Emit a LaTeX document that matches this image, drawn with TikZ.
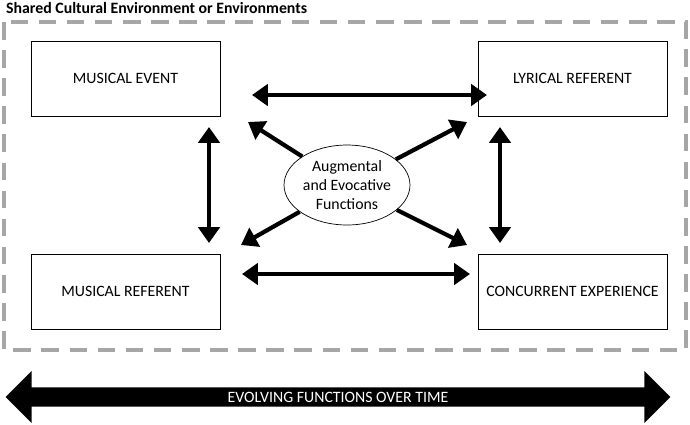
\documentclass[tikz,border=0pt]{standalone}
\usepackage{fontspec}
\setmainfont{Carlito}
\usetikzlibrary{arrows.meta,shapes,positioning,shadows}

\begin{document}
\begin{tikzpicture}[x=0.02cm, y=-0.02cm,
    box/.style={rectangle, draw, fill=white, minimum width=3.78cm, minimum height=1.5cm, font=\small, drop shadow={shadow xshift=0.5pt, shadow yshift=-0.5pt, opacity=0.3}},
    arrow/.style={{Triangle[length=9pt,width=12pt]}-{Triangle[length=9pt,width=12pt]}, line width=2.4pt},
    onearrow/.style={-{Triangle[length=9pt,width=12pt]}, line width=2.4pt}
]
    \useasboundingbox (0,0) rectangle (690,424);
    \node[font=\small\bfseries, anchor=west] (title) at (0,8) {Shared Cultural Environment or Environments};
    \draw[gray!70, dashed, line width=2pt, dash pattern=on 10pt off 6pt] (4,22) rectangle (686,350);

    \node[box] (event) at (125.5,78.5) {MUSICAL EVENT};
    \node[box] (lyrical) at (572.5,78.5) {LYRICAL REFERENT};
    \node[box] (referent) at (125.5,291.5) {MUSICAL REFERENT};
    \node[box] (concurrent) at (572.5,291.5) {CONCURRENT EXPERIENCE};
    \node[ellipse, draw, minimum width=2.52cm, minimum height=1.6cm, align=center, font=\small, inner sep=0pt] (functions) at (347,185) {Augmental\\and Evocative\\Functions};

    % gaps between boxes
    \coordinate (tl) at (252,95);
    \coordinate (tr) at (487,95);
    \coordinate (bl) at (242,274);
    \coordinate (br) at (470,274);
    \coordinate (lt) at (209,127);
    \coordinate (lb) at (209,243);
    \coordinate (rt) at (500,127);
    \coordinate (rb) at (500,243);
    \coordinate (dtl) at (248,122);
    \coordinate (dtr) at (467,122);
    \coordinate (dbl) at (241,245);
    \coordinate (dbr) at (467,245);

    \draw[arrow] (tl) -- (tr);
    \draw[arrow] (bl) -- (br);
    \draw[arrow] (lt) -- (lb);
    \draw[arrow] (rt) -- (rb);
    \draw[onearrow] (functions) -- (dtl);
    \draw[onearrow] (functions) -- (dtr);
    \draw[onearrow] (functions) -- (dbl);
    \draw[onearrow] (functions) -- (dbr);

    \node[double arrow, fill=black, text=white, minimum height=13.3cm, minimum width=1.04cm, double arrow head extend=0.25cm, inner sep=1pt, font=\small] (time) at (338,397) {EVOLVING FUNCTIONS OVER TIME};
\end{tikzpicture}
\end{document}
